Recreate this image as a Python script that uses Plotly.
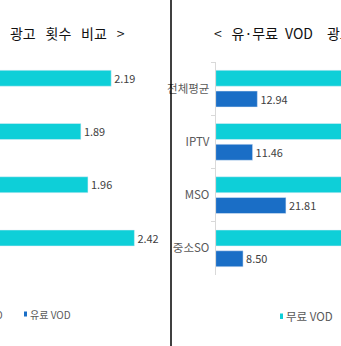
import plotly.graph_objects as go

W, H = 341, 346

categories = ["전체평균", "IPTV", "MSO", "중소SO"]
# left panel: ad count (free VOD visible; paid VOD bars fall outside the crop)
count_free = [2.19, 1.89, 1.96, 2.42]
count_paid = [0.62, 0.55, 0.71, 0.48]
# right panel: paid VOD visible; free VOD bars run past the crop edge
time_free = [45.6, 43.1, 48.9, 44.2]
time_paid = [12.94, 11.46, 21.81, 8.50]

WS = "\u2002\u2009"  # wide word gap as in the original title typography
title_left = "<" + WS + "유·무료" + "\u2002" + "VOD" + "\u2003" + "광고" + WS + "횟수" + WS + "비교" + WS + ">"
title_right = "<" + WS + "유·무료" + "\u2002" + "VOD" + "\u2003" + "광고" + WS + "시간" + WS + "비교" + WS + ">"
legend_free = "무료 VOD"
legend_paid = "유료 VOD"

CYAN = "#0ecfd8"
BLUE = "#1a6ec6"
NARROW = "Liberation Sans Narrow, Noto Sans CJK KR, sans-serif"
KR = "Noto Sans CJK KR, sans-serif"


def px(x):
    return x / W


def py(y):
    return 1 - y / H


fig = go.Figure()

common = dict(orientation="h", width=0.3,
              texttemplate="%{x:.2f}", cliponaxis=True,
              textfont=dict(family=NARROW, size=13, color="#404040"),
              showlegend=False)

# labels of bars whose ends lie outside the cropped view are not shown
fig.add_trace(go.Bar(y=categories, x=count_free, marker_color=CYAN, offset=-0.345,
                     textposition="outside", xaxis="x", yaxis="y", **common))
fig.add_trace(go.Bar(y=categories, x=count_paid, marker_color=BLUE, offset=0.045,
                     textposition="none", xaxis="x", yaxis="y", **common))
fig.add_trace(go.Bar(y=categories, x=time_free, marker_color=CYAN, offset=-0.345,
                     textposition="none", xaxis="x2", yaxis="y2", **common))
fig.add_trace(go.Bar(y=categories, x=time_paid, marker_color=BLUE, offset=0.045,
                     textposition="outside", xaxis="x2", yaxis="y2", **common))

ydom = [py(275), py(62)]

fig.update_layout(
    width=W, height=H,
    margin=dict(l=0, r=0, t=0, b=0),
    paper_bgcolor="white", plot_bgcolor="white",
    barmode="overlay",
    xaxis=dict(domain=[0, px(160)], range=[110 / 101, 270 / 101], visible=False),
    yaxis=dict(domain=ydom, range=[3.5, -0.5], visible=False,
               categoryorder="array", categoryarray=categories),
    xaxis2=dict(domain=[px(215.7), 1], range=[0, 125.3 / 3.22], visible=False,
                anchor="y2"),
    yaxis2=dict(domain=ydom, range=[3.5, -0.5], anchor="x2",
                categoryorder="array", categoryarray=categories,
                showline=True, linecolor="#d9d9d9", linewidth=1,
                ticks="outside", tickson="boundaries", ticklen=4,
                tickcolor="#d9d9d9", showgrid=False, ticklabelstandoff=3,
                tickfont=dict(family=NARROW, size=11.5, color="#595959")),
)

# divider between the panels
fig.add_shape(type="line", xref="paper", yref="paper",
              x0=px(171), x1=px(171), y0=0, y1=1,
              line=dict(color="black", width=1.5))

# titles
fig.add_annotation(text=title_left, xref="paper", yref="paper",
                   x=px(127), y=py(33), xanchor="right", yanchor="middle",
                   showarrow=False, font=dict(family=KR, size=14, color="#111111"))
fig.add_annotation(text=title_right, xref="paper", yref="paper",
                   x=px(212), y=py(33), xanchor="left", yanchor="middle",
                   showarrow=False, font=dict(family=KR, size=14, color="#111111"))

# legends
lg_font = dict(family=NARROW, size=10, color="#595959")
fig.add_annotation(text=legend_free, xref="paper", yref="paper",
                   x=px(5), y=py(314), xanchor="right", yanchor="middle",
                   showarrow=False, font=lg_font)
fig.add_shape(type="rect", xref="paper", yref="paper",
              x0=px(24), x1=px(27), y0=py(316.5), y1=py(311.5),
              fillcolor=BLUE, line=dict(width=0))
fig.add_annotation(text=legend_paid, xref="paper", yref="paper",
                   x=px(27.5), y=py(314), xanchor="left", yanchor="middle",
                   showarrow=False, font=lg_font)
fig.add_shape(type="rect", xref="paper", yref="paper",
              x0=px(280), x1=px(283), y0=py(319), y1=py(313.5),
              fillcolor=CYAN, line=dict(width=0))
fig.add_annotation(text=legend_free, xref="paper", yref="paper",
                   x=px(283.5), y=py(316), xanchor="left", yanchor="middle",
                   showarrow=False, font=dict(family=NARROW, size=11.5, color="#595959"))

fig.write_html("out.html")
